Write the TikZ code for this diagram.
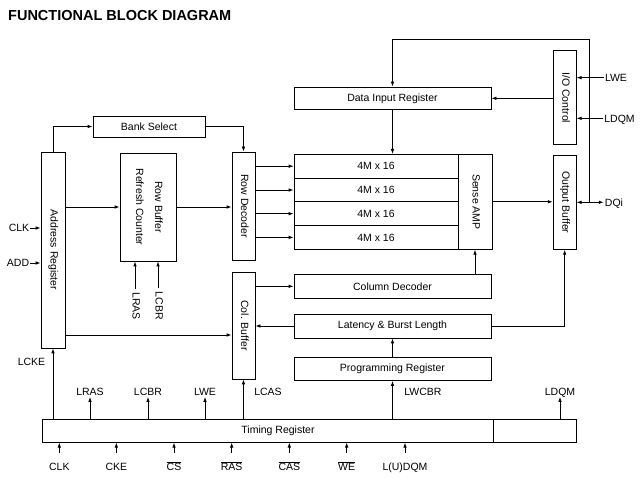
\documentclass[tikz,border=0pt]{standalone}
\usepackage{fontspec}
\setmainfont{Liberation Sans}
\usepackage{graphicx}
\usetikzlibrary{arrows.meta}

\newcommand{\vtext}[1]{\rotatebox{-90}{\begin{tabular}{@{}c@{}}#1\end{tabular}}}

\begin{document}
\begin{tikzpicture}[x=1pt, y=-1pt,
      font=\fontsize{10.5}{12}\selectfont,
      box/.style={rectangle, draw, line width=0.8pt, inner sep=0pt, align=center},
      hbox/.style={box, minimum width=197pt, minimum height=23pt},
      vbox/.style={box, minimum width=23pt},
      cell/.style={box, minimum width=164pt, minimum height=23.75pt},
      sig/.style={inner sep=1pt, text height=7.6pt, text depth=0pt},
      bot/.style={sig, text height=9.5pt, anchor=base},
      arr/.style={-{Latex[length=5pt,width=3.6pt]}, line width=0.8pt},
    ]
    \useasboundingbox (0,0) rectangle (641,478);

    % Title
    \node[anchor=west, inner sep=0pt, font=\bfseries\fontsize{14.5}{16}\selectfont]
      (title) at (8,16) {FUNCTIONAL BLOCK DIAGRAM};

    % Left side: address path
    \node[vbox, minimum width=24pt, minimum height=196pt] (addr) at (53,250) {\vtext{Address Register}};
    \node[box, minimum width=112pt, minimum height=21pt] (bank) at (149,126.5) {Bank Select};
    \node[box, minimum width=56pt, minimum height=108pt] (rbc) at (148,207)
      {\vtext{Row Buffer\\[7pt]Refresh Counter}};
    \node[vbox, minimum height=108pt] (rowdec) at (243.5,206) {\vtext{Row Decoder}};
    \node[vbox, minimum height=107pt] (colbuf) at (243.5,325.5) {\vtext{Col. Buffer}};

    % Memory banks + sense amp
    \foreach \i/\y in {1/166.2, 2/190, 3/213.7, 4/237.4}
      \node[cell] (mem\i) at (376,\y) {4M x 16};
    \node[box, minimum width=34pt, minimum height=95pt] (sense) at (475,201.8) {\vtext{Sense AMP}};

    % Middle column
    \node[hbox, minimum height=22.5pt] (datain) at (392.5,98.3) {Data Input Register};
    \node[hbox, minimum height=24pt] (coldec) at (392.5,286.3) {Column Decoder};
    \node[hbox, minimum height=24pt] (lat) at (392.5,326) {Latency \& Burst Length};
    \node[hbox] (prog) at (392.5,369) {Programming Register};

    % Right side
    \node[vbox, minimum height=94pt] (ioc) at (564.7,97.8) {\vtext{I/O Control}};
    \node[vbox, minimum height=94pt] (outbuf) at (564.7,202.3) {\vtext{Output Buffer}};

    % Timing register
    \node[box, minimum width=451pt, minimum height=23pt,
          label={[xshift=10.5pt]center:Timing Register}] (timing) at (267.5,430.7) {};
    \node[box, minimum width=83pt, minimum height=23pt] (tail) at (534.5,430.7) {};

    % Signal names
    \node[sig] (clka) at (19,228) {CLK};
    \node[sig] (adda) at (18,263) {ADD};
    \node[inner sep=1pt] (lrasv) at (135,306) {\vtext{LRAS}};
    \node[inner sep=1pt] (lcbrv) at (158,306) {\vtext{LCBR}};
    \node[sig] (lwe)  at (616,77.7) {LWE};
    \node[sig] (ldqm) at (619.5,118.3) {LDQM};
    \node[sig] (dqi)  at (614,202.3) {DQi};
    \node[sig] (lcke) at (31.5,362) {LCKE};
    \node[sig] (lrast) at (90,392) {LRAS};
    \node[sig] (lcbrt) at (148,392) {LCBR};
    \node[sig] (lwet)  at (205,392) {LWE};
    \node[sig] (lcas)  at (268,392) {LCAS};
    \node[sig] (lwcbr) at (423,392) {LWCBR};
    \node[sig] (ldqmt) at (560,392) {LDQM};

    % Address path arrows
    \draw[arr] (clka) -- (clka -| addr.west);
    \draw[arr] (adda) -- (adda -| addr.west);
    \draw[arr] (addr.north) |- (bank.west);
    \draw[arr] (bank.east) -| (rowdec.north);
    \draw[arr] (addr.east |- rbc) -- (rbc.west);
    \draw[arr] (rbc.east) -- (rbc.east -| rowdec.west);
    \coordinate (cbin) at ([yshift=-9.5pt]colbuf.west);
    \draw[arr] (addr.east |- cbin) -- (cbin);
    \draw[arr, shorten <=2.5pt] (lrasv.north) -- (lrasv.north |- rbc.south);
    \draw[arr, shorten <=2.5pt] (lcbrv.north) -- (lcbrv.north |- rbc.south);

    % Banks and decoders
    \foreach \i in {1,...,4}
      \draw[arr] (rowdec.east |- mem\i) -- (mem\i.west);
    \draw[arr] (datain.south) -- (datain.south |- mem1.north);
    \draw[arr] (colbuf.east |- coldec) -- (coldec.west);
    \draw[arr] (coldec.north -| sense) -- (sense.south);
    \draw[arr] (lat.west) -- (lat.west -| colbuf.east);
    \draw[arr] (prog.north) -- (lat.south);
    \draw[arr] (lat.east) -| (outbuf.south);
    \draw[arr] (sense.east) -- (sense.east -| outbuf.west);

    % I/O side
    \draw[arr] (ioc.west |- datain) -- (datain.east);
    \draw[arr] (lwe) -- (lwe -| ioc.east);
    \draw[arr] (ldqm) -- (ldqm -| ioc.east);
    \coordinate (dqj) at (589,202.3);
    \draw[arr] (dqj) -- (outbuf.east);
    \draw[arr] (dqj) -- (dqi.west);
    \draw[arr] (dqj) -- ++(0,-163) -| (datain.north);

    % Timing register outputs
    \draw[arr] (timing.north -| addr.south) -- (addr.south);
    \foreach \n in {lrast, lcbrt, lwet, ldqmt}
      \draw[arr] (timing.north -| \n) -- (\n.south);
    \draw[arr] (timing.north -| colbuf.south) -- (colbuf.south);
    \draw[arr] (timing.north -| prog.south) -- (prog.south);

    % Timing register inputs
    \foreach \n/\x/\t in {clkb/59.3/CLK, ckeb/116.3/CKE, csb/174/$\overline{\mbox{CS}}$,
        rasb/231.7/$\overline{\mbox{RAS}}$, casb/289.3/$\overline{\mbox{CAS}}$,
        web/346.7/$\overline{\mbox{WE}}$, ldqmb/405/L(U)DQM} {
      \node[bot] (\n) at (\x,470.5) {\t};
      \draw[arr, shorten <=7pt] (\n.north) -- (\n.north |- timing.south);
    }

  \end{tikzpicture}
\end{document}
